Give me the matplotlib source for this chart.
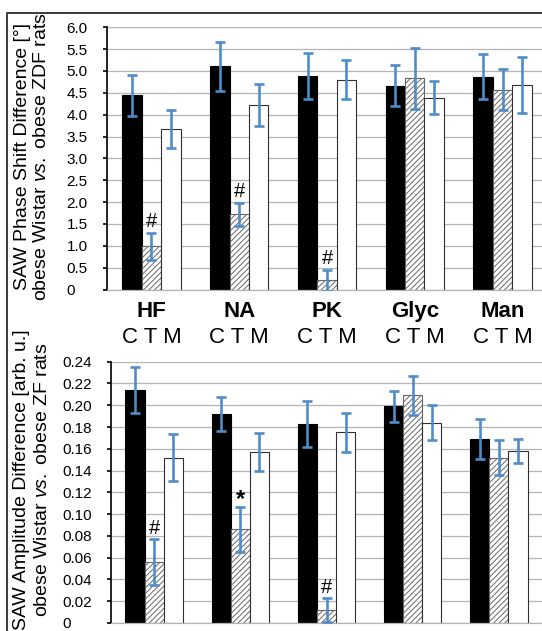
import matplotlib
matplotlib.use('Agg')
import matplotlib.pyplot as plt
import matplotlib.transforms as mtransforms
from matplotlib.lines import Line2D
import numpy as np

plt.rcParams['font.family'] = ['Liberation Sans', 'DejaVu Sans']
plt.rcParams['mathtext.fontset'] = 'custom'
plt.rcParams['mathtext.rm'] = 'Liberation Sans'
plt.rcParams['mathtext.it'] = 'Liberation Sans:italic'
plt.rcParams['hatch.linewidth'] = 0.7

# treatment groups, each with control (C), treated (T) and M bars
groups = ['HF', 'NA', 'PK', 'Glyc', 'Man']

# SAW phase shift difference [deg]
phase_C = [4.44, 5.11, 4.89, 4.66, 4.87]
phase_C_err = [0.47, 0.56, 0.52, 0.47, 0.51]
phase_T = [0.99, 1.72, 0.21, 4.83, 4.57]
phase_T_err = [0.31, 0.27, 0.24, 0.70, 0.47]
phase_M = [3.67, 4.22, 4.80, 4.39, 4.68]
phase_M_err = [0.43, 0.49, 0.45, 0.38, 0.63]
phase_marks = ['#', '#', '#', '', '']

# SAW amplitude difference [arb. u.]
amp_C = [0.214, 0.192, 0.183, 0.199, 0.169]
amp_C_err = [0.021, 0.016, 0.021, 0.0145, 0.0185]
amp_T = [0.056, 0.086, 0.012, 0.209, 0.152]
amp_T_err = [0.021, 0.021, 0.011, 0.018, 0.016]
amp_M = [0.152, 0.157, 0.175, 0.184, 0.158]
amp_M_err = [0.022, 0.0175, 0.018, 0.016, 0.011]
amp_marks = ['#', '*', '#', '', '']

err_color = '#4f8cc9'
grid_color = '#b4b4b4'
w = 0.222

fig = plt.figure(figsize=(5.42, 6.31), dpi=100)
ax1 = fig.add_axes([107 / 542, 1 - 289.5 / 631, 1 - 107 / 542, (289.5 - 27.3) / 631])
ax2 = fig.add_axes([111 / 542, 1 - 623 / 631, 1 - 111 / 542, (623 - 361.7) / 631])


def draw_panel(ax, C, Ce, T, Te, M, Me, marks, ymax, step, fmt, xlim, label_left):
    x = np.arange(len(groups))
    ax.bar(x - w, C, w, color='black', edgecolor='black', linewidth=0.8, zorder=2)
    ax.bar(x, T, w, color='white', edgecolor='#666666', hatch='//////', linewidth=0.8, zorder=2)
    ax.bar(x + w, M, w, color='white', edgecolor='#303030', linewidth=0.8, zorder=2)
    for off, vals, errs in [(-w, C, Ce), (0, T, Te), (w, M, Me)]:
        ax.errorbar(x + off, vals, yerr=errs, fmt='none', ecolor=err_color,
                    elinewidth=1.9, capsize=3.3, capthick=1.9, zorder=3)
    for i, m in enumerate(marks):
        if m == '*':
            ax.annotate(m, (x[i], T[i] + Te[i]), xytext=(0, -3), textcoords='offset points',
                        ha='center', va='bottom', fontsize=17, fontweight='bold', zorder=4)
        elif m:
            ax.annotate(m, (x[i], T[i] + Te[i]), xytext=(0, 1), textcoords='offset points',
                        ha='center', va='bottom', fontsize=14.5, zorder=4)
    ticks = np.arange(0, ymax + step / 2, step)
    ax.set_ylim(0, ymax)
    ax.set_xlim(*xlim)
    ax.set_yticks(ticks)
    ax.set_yticklabels(['0' if t == 0 else fmt % t for t in ticks])
    ax.yaxis.grid(True, color=grid_color, linewidth=0.9, zorder=0)
    ax.set_axisbelow(True)
    ax.set_xticks([])
    for s in ['top', 'right']:
        ax.spines[s].set_visible(False)
    ax.spines['bottom'].set_color(grid_color)
    ax.spines['bottom'].set_linewidth(0.9)
    ax.spines['left'].set_linewidth(1.2)
    ax.tick_params(axis='y', direction='out', length=3.2, width=1.2, labelsize=11,
                   pad=label_left - 3.2)
    for lab in ax.get_yticklabels():
        lab.set_horizontalalignment('left')


draw_panel(ax1, phase_C, phase_C_err, phase_T, phase_T_err, phase_M, phase_M_err,
           phase_marks, 6.0, 0.5, '%.1f', (-0.507, 4.45), 29)
draw_panel(ax2, amp_C, amp_C_err, amp_T, amp_T_err, amp_M, amp_M_err,
           amp_marks, 0.24, 0.02, '%.2f', (-0.5, 4.5), 35)

# group labels between the panels
trans = mtransforms.blended_transform_factory(ax1.transData, fig.transFigure)
for i, g in enumerate(groups):
    ax1.text(i, 1 - 311.7 / 631, g, transform=trans, ha='center', va='center',
             fontsize=16, fontweight='bold', clip_on=False)
    ax1.text(i, 1 - 337.7 / 631, 'C T M', transform=trans, ha='center', va='center',
             fontsize=16, clip_on=False)

# y axis titles
fig.text(23 / 542, 1 - 157 / 631, 'SAW Phase Shift Difference [°]', rotation=90,
         ha='center', va='center', fontsize=14)
fig.text(42 / 542, 1 - 157 / 631, r'obese Wistar $\mathit{vs.}$ obese ZDF rats', rotation=90,
         ha='center', va='center', fontsize=14)
fig.text(21.5 / 542, 1 - 480 / 631, 'SAW Amplitude Difference [arb. u.]', rotation=90,
         ha='center', va='center', fontsize=14)
fig.text(43 / 542, 1 - 480 / 631, r'obese Wistar $\mathit{vs.}$ obese ZF rats', rotation=90,
         ha='center', va='center', fontsize=14)

# outer frame (cropped figure border)
fig.add_artist(Line2D([7 / 542, 7 / 542, 1], [0, 1 - 13.3 / 631, 1 - 13.3 / 631],
                      transform=fig.transFigure, color='#3a3a3a', linewidth=1.4))

fig.savefig('out.png', dpi=100)
